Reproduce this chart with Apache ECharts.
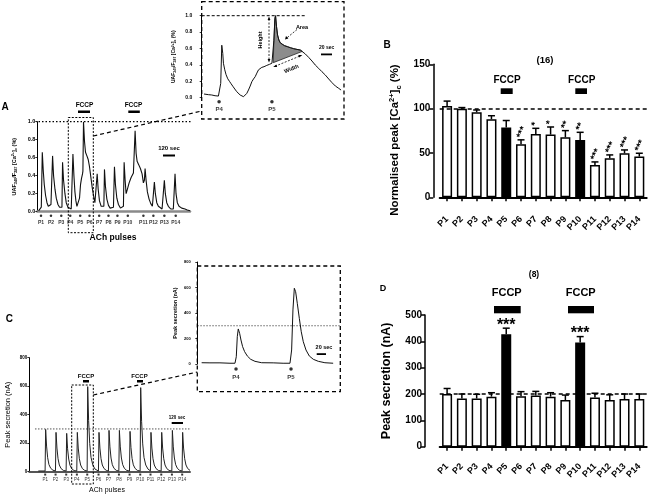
<!DOCTYPE html>
<html><head><meta charset="utf-8">
<script src="https://cdn.jsdelivr.net/npm/echarts@6/dist/echarts.min.js"></script>
<style>html,body{margin:0;padding:0;background:#fff}#c{width:654px;height:497px}</style>
</head><body><div id="c"></div><script>
// ---------- DATA ----------
const categories = ['P1','P2','P3','P4','P5','P6','P7','P8','P9','P10','P11','P12','P13','P14'];
const fccpPulses = ['P5','P10'];
// Panel B: normalised peak [Ca2+]c (%)
const peakCaMean = [103, 100, 95.9, 88, 78.6, 59.8, 71.4, 70.7, 67.7, 64.7, 36.5, 44, 49.6, 45.9];
const peakCaSem  = [5.5, 1.2, 2.6, 4, 8, 5, 6.4, 8.6, 7.5, 8.6, 3.4, 3.8, 3.8, 3.8];
const peakCaStars = ['', '', '', '', '', '***', '*', '*', '**', '**', '***', '***', '***', '***'];
// Panel D: peak secretion (nA)
const secretionMean = [200, 183, 183, 190, 427, 192, 194, 190, 177, 396, 187, 177, 181, 181];
const secretionSem  = [21, 17, 16, 15, 23, 17, 16, 15, 19, 22, 16, 20, 19, 19];
const secretionStars = ['', '', '', '', '***', '', '', '', '', '***', '', '', '', ''];
// Panel A: [Ca2+]c trace [time s, value]
const traceCa = [[13,0.01],[33,0.01],[40,0.05],[50,0.66],[60,0.45],[70,0.30],[83,0.18],[97,0.10],[110,0.06],[120,0.07],[130,0.05],[137,0.08],[143,0.06],[153,0.62],[163,0.40],[177,0.25],[190,0.15],[207,0.08],[223,0.05],[240,0.03],[247,0.05],[253,0.55],[263,0.35],[277,0.20],[290,0.10],[307,0.05],[323,0.03],[340,0.03],[350,0.05],[357,0.64],[367,0.40],[377,0.22],[387,0.12],[397,0.06],[407,0.04],[417,0.05],[423,0.15],[433,0.30],[443,0.37],[453,0.42],[457,0.45],[463,1.00],[473,0.78],[483,0.66],[497,0.62],[510,0.58],[523,0.50],[537,0.38],[550,0.27],[563,0.18],[577,0.10],[587,0.08],[593,0.10],[600,0.42],[610,0.25],[623,0.12],[640,0.06],[657,0.04],[667,0.06],[673,0.47],[683,0.28],[697,0.14],[713,0.07],[730,0.04],[750,0.03],[763,0.05],[773,0.50],[783,0.30],[797,0.15],[813,0.08],[833,0.04],[853,0.03],[863,0.06],[870,0.55],[880,0.35],[890,0.20],[903,0.25],[920,0.32],[940,0.38],[963,0.43],[973,0.45],[980,0.90],[990,0.65],[1000,0.56],[1017,0.52],[1033,0.48],[1050,0.42],[1063,0.32],[1073,0.35],[1080,0.48],[1090,0.35],[1103,0.22],[1120,0.14],[1137,0.09],[1153,0.06],[1167,0.07],[1173,0.33],[1183,0.20],[1197,0.10],[1213,0.06],[1230,0.04],[1250,0.03],[1263,0.05],[1273,0.35],[1283,0.20],[1297,0.10],[1313,0.06],[1337,0.03],[1363,0.03],[1373,0.05],[1380,0.42],[1390,0.20],[1403,0.10],[1420,0.06],[1447,0.04],[1480,0.03],[1503,0.02],[1530,0.01]];
const pulseTimesCa = [37,137,240,330,430,523,620,713,803,907,1063,1163,1273,1387];
// Panel A inset (P4-P5 zoom)
const traceCaZoom = [[4.2,0.045],[12.1,0.037],[18.2,0.033],[24.2,0.024],[30.3,0.02],[32.7,0.016],[34.5,0.175],[36.4,0.64],[38.2,0.54],[39.4,0.42],[41.8,0.34],[44.2,0.28],[47.3,0.23],[50.3,0.20],[53.3,0.17],[56.4,0.14],[60,0.106],[63.6,0.073],[66.7,0.049],[69.7,0.033],[72.7,0.02],[75.8,0.012],[78.8,0.02],[81.8,0.053],[84.8,0.094],[87.9,0.142],[90.9,0.195],[93.9,0.228],[97,0.256],[100,0.30],[103,0.34],[106,0.36],[109,0.37],[113,0.378],[118,0.394],[123,0.407],[127.3,0.42],[129.7,0.427],[130.9,0.70],[132.7,0.967],[133.9,1.0],[135.7,0.866],[137.6,0.764],[140,0.703],[142.4,0.67],[146,0.65],[150.3,0.634],[155.7,0.622],[160.6,0.61],[166.7,0.598],[172.7,0.589],[178.8,0.581],[182.4,0.565],[187.9,0.533],[193.9,0.492],[200,0.447],[206,0.398],[212,0.358],[218,0.317],[224.2,0.276],[230.3,0.228],[236.3,0.183],[242.4,0.142],[248.5,0.114],[252.7,0.093]];
const zoomPulseNames = ['P4','P5'];
const zoomPulseCa = [31.5, 127.3];
const areaStartT = 129.7, areaEndT = 182.4;
// Panel C: secretion trace [time s, nA]
const traceSec = [[98,5],[172,5],[178,297],[188,180],[200,98],[214,50],[233,24],[258,10],
[285,6],[291,276],[301,166],[313,91],[327,47],[346,22],[371,9],
[401,5],[407,269],[417,161],[429,89],[443,46],[462,21],[487,8],
[517,5],[523,276],[533,166],[545,91],[559,47],[578,22],[603,9],
[630,5],[636,597],[646,358],[658,197],[672,101],[691,48],[716,18],
[753,5],[759,276],[769,166],[781,91],[795,47],[814,22],[839,9],
[862,5],[868,290],[878,174],[890,96],[904,49],[923,23],[948,9],
[975,5],[981,290],[991,174],[1003,96],[1017,49],[1036,23],[1061,9],
[1091,5],[1097,283],[1107,170],[1119,93],[1133,48],[1152,23],[1177,9],
[1207,5],[1213,590],[1223,354],[1235,195],[1249,100],[1268,47],[1293,18],
[1319,6],[1325,276],[1335,166],[1347,91],[1361,47],[1380,22],[1405,9],
[1436,5],[1442,276],[1452,166],[1464,91],[1478,47],[1497,22],[1522,9],
[1552,5],[1558,290],[1568,174],[1580,96],[1594,49],[1613,23],[1638,9],
[1664,5],[1670,276],[1680,166],[1692,91],[1706,47],[1725,22],[1750,9]];
const pulseTimesSec = [173,286,402,518,631,754,863,976,1092,1208,1320,1437,1553,1665];
// Panel C inset
const traceSecZoom = [[7.9,10],[23,9],[41.2,9],[59.4,6],[68.5,6],[70.9,57],[72.7,214],[74.5,275],[77,240],[79.4,188],[82.4,136],[86,97],[90.9,63],[97,37],[104.8,21],[117,10],[138,9],[156,6],[168.5,6],[171.5,110],[173.9,424],[176.4,594],[178.8,567],[181.8,476],[185.5,358],[189,253],[192.7,175],[197.6,110],[203.6,63],[210.9,37],[220,21],[232,10],[247,6]];
const zoomPulseSec = [70.4, 170.4];

// ---------- CHART ----------
const FONT = 'Liberation Sans, Arial, sans-serif';
const chart = echarts.init(document.getElementById('c'), null, {renderer:'canvas'});

function txt(text, x, y, size, bold, rot) {
  return {type:'text', x:x, y:y, rotation: rot||0, z:20, style:{text:text, fontSize:size, fontWeight: bold?'bold':'normal', fontFamily:FONT, fill:'#000', align:'center', verticalAlign:'middle'}};
}
function rect(x,y,w,h){ return {type:'rect', z:20, shape:{x:x,y:y,width:w,height:h}, style:{fill:'#000'}}; }
function dashRect(x,y,w,h,dash,lw){ return {type:'rect', z:20, shape:{x:x,y:y,width:w,height:h}, style:{fill:'none', stroke:'#000', lineWidth:lw||1, lineDash:dash}}; }
function dline(x1,y1,x2,y2,dash,lw){ return {type:'line', z:20, shape:{x1:x1,y1:y1,x2:x2,y2:y2}, style:{stroke:'#000', lineWidth:lw||1, lineDash:dash||null}}; }
function tri(points){ return {type:'polygon', z:20, shape:{points:points}, style:{fill:'#000'}}; }

function richName(n, s) {
  return {
    n:{fontSize:n, fontWeight:'bold', fontFamily:FONT, color:'#000', fill:'#000', lineHeight:n*1.3},
    b:{fontSize:s, fontWeight:'bold', fontFamily:FONT, color:'#000', fill:'#000', lineHeight:s*0.6, verticalAlign:'bottom'},
    p:{fontSize:s, fontWeight:'bold', fontFamily:FONT, color:'#000', fill:'#000', lineHeight:s*0.6, verticalAlign:'top'}
  };
}
const uafName = '{n|UAF}{b|340}{n|/F}{b|387}{n| [Ca}{p|2+}{n|]}{b|c}{n| (%)}';
const caName = '{n|Normalised peak [Ca}{p|2+}{n|]}{b|c}{n| (%)}';

function errRender(stars, rot, fsize, dy) {
  return function(params, api) {
    const i = api.value(0), m = api.value(1), e = api.value(2);
    const p0 = api.coord([i, m]), p1 = api.coord([i, m + e]);
    const ch = [
      {type:'line', shape:{x1:p0[0], y1:p0[1], x2:p1[0], y2:p1[1]}, style:{stroke:'#000', lineWidth:1.5}},
      {type:'line', shape:{x1:p1[0]-3.5, y1:p1[1], x2:p1[0]+3.5, y2:p1[1]}, style:{stroke:'#000', lineWidth:1.5}}
    ];
    const s = stars[params.dataIndex];
    if (s) {
      if (rot) ch.push({type:'text', x:p1[0]-1.5, y:p1[1]-2, rotation:rot, style:{text:s, fontSize:fsize, fontWeight:'bold', fontFamily:FONT, fill:'#000', align:'left', verticalAlign:'middle'}});
      else ch.push({type:'text', x:p1[0], y:p1[1]+dy, style:{text:s, fontSize:fsize, fontWeight:'bold', fontFamily:FONT, fill:'#000', align:'center', verticalAlign:'middle'}});
    }
    return {type:'group', children:ch};
  };
}

const noSplit = {show:false};
const blackAxis = (w) => ({show:true, lineStyle:{color:'#000', width:w}});

const option = {
  animation:false,
  textStyle:{fontFamily:FONT},
  grid:[
    {left:37.3, top:121.7, width:152.7, height:90, outerBoundsMode:'none'},
    {left:201.7, top:15.7, width:142.3, height:82, outerBoundsMode:'none'},
    {left:439.7, top:64.3, width:207, height:133, outerBoundsMode:'none'},
    {left:29.3, top:357.7, width:160.7, height:114, outerBoundsMode:'none'},
    {left:197.3, top:262, width:143, height:102, outerBoundsMode:'none'},
    {left:439.7, top:315, width:207, height:131.7, outerBoundsMode:'none'}
  ],
  xAxis:[
    {type:'value', gridIndex:0, min:0, max:1530, axisLine:{show:true, onZero:false, lineStyle:{color:'#8a8a8a', width:2.5}}, axisTick:{show:false}, axisLabel:{show:false}, splitLine:noSplit},
    {type:'value', gridIndex:1, min:0, max:258, show:false, splitLine:noSplit},
    {type:'category', gridIndex:2, data:categories, offset:15.4, axisLine:{show:true, lineStyle:{color:'#000', width:2}}, axisTick:{show:true, alignWithLabel:true, length:4, lineStyle:{color:'#000', width:1.5}}, axisLabel:{rotate:45, fontSize:9, fontWeight:'bold', color:'#000', margin:5, interval:0}, splitLine:noSplit},
    {type:'value', gridIndex:3, min:0, max:1750, axisLine:{show:true, onZero:false, lineStyle:{color:'#555', width:2}}, axisTick:{show:false}, axisLabel:{show:false}, splitLine:noSplit},
    {type:'value', gridIndex:4, min:0, max:260, show:false, splitLine:noSplit},
    {type:'category', gridIndex:5, data:categories, offset:13.3, axisLine:{show:true, lineStyle:{color:'#000', width:2}}, axisTick:{show:true, alignWithLabel:true, length:4, lineStyle:{color:'#000', width:1.5}}, axisLabel:{rotate:45, fontSize:9, fontWeight:'bold', color:'#000', margin:5, interval:0}, splitLine:noSplit}
  ],
  yAxis:[
    {type:'value', gridIndex:0, min:0, max:1, interval:0.2, axisLine:blackAxis(1), axisTick:{show:true, length:2, lineStyle:{color:'#000', width:0.8}}, splitLine:noSplit,
     axisLabel:{fontSize:5.5, fontWeight:'bold', color:'#000', margin:2, formatter:v=>v.toFixed(1)},
     name:uafName, nameLocation:'middle', nameGap:19, nameTextStyle:{rich:richName(5.5,3.8)}},
    {type:'value', gridIndex:1, min:0, max:1, interval:0.2, offset:7.4, axisLine:blackAxis(1), axisTick:{show:true, length:2, lineStyle:{color:'#000', width:0.8}}, splitLine:noSplit,
     axisLabel:{fontSize:5, fontWeight:'bold', color:'#000', margin:2, formatter:v=>v.toFixed(1)},
     name:uafName, nameLocation:'middle', nameGap:17, nameTextStyle:{rich:richName(5,3.5)}},
    {type:'value', gridIndex:2, min:0, max:150, interval:50, offset:6.4, axisLine:blackAxis(1.5), axisTick:{show:true, length:4, lineStyle:{color:'#000', width:1.5}}, splitLine:noSplit,
     axisLabel:{fontSize:10, fontWeight:'bold', color:'#000', margin:3}},
    {type:'value', gridIndex:3, min:0, max:800, interval:200, axisLine:blackAxis(1), axisTick:{show:true, length:2, lineStyle:{color:'#000', width:0.8}}, splitLine:noSplit,
     axisLabel:{fontSize:4.5, fontWeight:'bold', color:'#000', margin:2},
     name:'Peak secretion (nA)', nameLocation:'middle', nameGap:17, nameTextStyle:{fontSize:7.5, color:'#000', fontFamily:FONT}},
    {type:'value', gridIndex:4, min:0, max:800, interval:200, offset:4.6, axisLine:blackAxis(1), axisTick:{show:true, length:2, lineStyle:{color:'#000', width:0.8}}, splitLine:noSplit,
     axisLabel:{fontSize:4, fontWeight:'bold', color:'#000', margin:2},
     name:'Peak secretion (nA)', nameLocation:'middle', nameGap:14, nameTextStyle:{fontSize:5.5, fontWeight:'bold', color:'#000', fontFamily:FONT}},
    {type:'value', gridIndex:5, min:0, max:500, interval:100, offset:14.7, axisLine:blackAxis(1.5), axisTick:{show:true, length:4, lineStyle:{color:'#000', width:1.5}}, splitLine:noSplit,
     axisLabel:{fontSize:10, fontWeight:'bold', color:'#000', margin:3},
     name:'Peak secretion (nA)', nameLocation:'middle', nameGap:32, nameTextStyle:{fontSize:12.5, fontWeight:'bold', color:'#000', fontFamily:FONT}}
  ],
  series:[
    // A main
    {type:'line', xAxisIndex:0, yAxisIndex:0, data:traceCa, showSymbol:false, lineStyle:{color:'#111', width:1.1}, z:3},
    {type:'line', xAxisIndex:0, yAxisIndex:0, data:[[-93,1],[1597,1]], clip:false, showSymbol:false, lineStyle:{type:[1.5,2], color:'#000', width:1.2}, z:2},
    {type:'scatter', xAxisIndex:0, yAxisIndex:0, clip:false, symbolSize:2.5, itemStyle:{color:'#000'},
     data:pulseTimesCa.map((t,i)=>({name:categories[i], value:[t,-0.045]})),
     label:{show:true, position:'bottom', distance:3, formatter:'{b}', fontSize:5, fontWeight:'bold', color:'#000'}},
    // A inset
    {type:'custom', xAxisIndex:1, yAxisIndex:1, data:[0], z:2,
     renderItem:(params, api) => ({type:'polygon', shape:{points:traceCaZoom.filter(p=>p[0]>=areaStartT && p[0]<=areaEndT).map(p=>api.coord(p))}, style:{fill:'#8c8c8c', stroke:'#222', lineWidth:0.8}})},
    {type:'line', xAxisIndex:1, yAxisIndex:1, data:traceCaZoom, showSymbol:false, lineStyle:{color:'#111', width:1}, z:3},
    {type:'line', xAxisIndex:1, yAxisIndex:1, data:[[0,1],[188,1]], clip:false, showSymbol:false, lineStyle:{type:[3,2], color:'#000', width:1}, z:2},
    {type:'scatter', xAxisIndex:1, yAxisIndex:1, clip:false, symbolSize:3.5, itemStyle:{color:'#000'},
     data:zoomPulseCa.map((t,i)=>({name:zoomPulseNames[i], value:[t,-0.05]})),
     label:{show:true, position:'bottom', distance:2.5, formatter:'{b}', fontSize:6, fontWeight:'bold', color:'#000'}},
    // B
    {type:'bar', xAxisIndex:2, yAxisIndex:2, barWidth:10, z:2,
     data:peakCaMean.map((v,i)=>({value:v, itemStyle:{color: fccpPulses.includes(categories[i]) ? '#000' : '#fff'}})),
     itemStyle:{borderColor:'#000', borderWidth:1.5},
     markLine:{silent:true, symbol:'none', label:{show:false}, lineStyle:{type:[4,3], color:'#000', width:1.5}, data:[{yAxis:100}]}},
    {type:'custom', xAxisIndex:2, yAxisIndex:2, z:3, data:peakCaMean.map((v,i)=>[i, v, peakCaSem[i]]), renderItem:errRender(peakCaStars, 1.15, 10, 0)},
    // C main
    {type:'line', xAxisIndex:3, yAxisIndex:3, data:traceSec, showSymbol:false, lineStyle:{color:'#222', width:1}, z:3},
    {type:'line', xAxisIndex:3, yAxisIndex:3, data:[[62,300],[1783,300]], clip:false, showSymbol:false, lineStyle:{type:[1.5,1.5], color:'#555', width:1}, z:2},
    {type:'scatter', xAxisIndex:3, yAxisIndex:3, clip:false, symbol:'rect', symbolSize:2, itemStyle:{color:'#000'},
     data:pulseTimesSec.map((t,i)=>({name:categories[i], value:[t,-20]})),
     label:{show:true, position:'bottom', distance:2, formatter:'{b}', fontSize:4.5, color:'#000'}},
    // C inset
    {type:'line', xAxisIndex:4, yAxisIndex:4, data:traceSecZoom, showSymbol:false, lineStyle:{color:'#111', width:1}, z:3},
    {type:'line', xAxisIndex:4, yAxisIndex:4, data:[[0,300],[259,300]], clip:false, showSymbol:false, lineStyle:{type:[1.5,1.5], color:'#666', width:1}, z:2},
    {type:'scatter', xAxisIndex:4, yAxisIndex:4, clip:false, symbolSize:3.5, itemStyle:{color:'#000'},
     data:zoomPulseSec.map((t,i)=>({name:zoomPulseNames[i], value:[t,-39]})),
     label:{show:true, position:'bottom', distance:3.5, formatter:'{b}', fontSize:6, fontWeight:'bold', color:'#000'}},
    // D
    {type:'bar', xAxisIndex:5, yAxisIndex:5, barWidth:10, z:2,
     data:secretionMean.map((v,i)=>({value:v, itemStyle:{color: fccpPulses.includes(categories[i]) ? '#000' : '#fff'}})),
     itemStyle:{borderColor:'#000', borderWidth:1.5},
     markLine:{silent:true, symbol:'none', label:{show:false}, lineStyle:{type:[4,3], color:'#000', width:1.5}, data:[{yAxis:200}]}},
    {type:'custom', xAxisIndex:5, yAxisIndex:5, z:3, data:secretionMean.map((v,i)=>[i, v, secretionSem[i]]), renderItem:errRender(secretionStars, 0, 16, -3)}
  ],
  graphic:{elements:[
    // B axis title
    {type:'text', x:395, y:140, rotation:Math.PI/2, z:20, style:{text:caName, rich:richName(11.5,7.5), fontFamily:FONT, fontWeight:'bold', fontSize:11.5, fill:'#000', align:'center', verticalAlign:'middle'}},
    // panel letters and counts
    txt('A', 5, 107, 10, true), txt('B', 387, 45, 10, true), txt('C', 9.3, 319, 10, true), txt('D', 383, 289, 9, true),
    txt('(16)', 545, 60, 9.5, true), txt('(8)', 534, 275, 8.5, true),
    // B FCCP
    txt('FCCP', 507, 80.7, 10, true), rect(500.7, 88.3, 12, 5.7),
    txt('FCCP', 581.7, 80.7, 10, true), rect(575.3, 88.3, 11.7, 5.7),
    // D FCCP
    txt('FCCP', 506.7, 293.3, 11, true), rect(494, 306, 26.7, 7.3),
    txt('FCCP', 580.7, 293.3, 11, true), rect(568, 306, 26, 7.3),
    // A main annotations
    txt('FCCP', 84.5, 105, 6.5, true), rect(78, 110.5, 12, 2.5),
    txt('FCCP', 133.5, 105, 6.5, true), rect(128.3, 110.5, 11.5, 2.5),
    txt('120 sec', 169, 148, 6, true), rect(163, 154.5, 12, 2),
    txt('ACh pulses', 113, 238, 8.5, true),
    dashRect(68.3, 117.5, 25, 115.2, [2,1.5], 1),
    dashRect(201.7, 1.7, 142.3, 117.3, [4,3], 1.3),
    dline(93.3, 136, 201.7, 111, [4,3], 1.2),
    // A inset annotations
    txt('20 sec', 326.7, 48, 5, true), rect(321, 53.5, 11, 1.8),
    txt('Height', 260.5, 40, 5.5, true, Math.PI/2),
    dline(269, 19, 269, 60, [2,1.5], 0.8), tri([[269,16.5],[267.6,20],[270.4,20]]), tri([[269,62.5],[267.6,59],[270.4,59]]),
    txt('Area', 302, 27, 5.5, true),
    dline(297, 29.5, 287, 37.8, [2,1.5], 0.8), tri([[285,39.4],[286,35.9],[288.4,38.6]]),
    txt('Width', 291.5, 69, 5.5, true, 0.39),
    dline(275, 66.3, 300.5, 55.8, [2,1.5], 0.8), tri([[273.2,67],[276.3,64.6],[277.2,67]]), tri([[302.3,55],[299.2,57.4],[298.3,55]]),
    // C main annotations
    txt('FCCP', 86, 376, 6, true), rect(83, 380, 6, 2.5),
    txt('FCCP', 139.5, 376, 6, true), rect(137, 380, 6, 2.5),
    txt('120 sec', 177, 418, 4.5, true), rect(171.7, 422, 11.3, 2),
    txt('ACh pulses', 107, 490, 7, false),
    dashRect(71.7, 385, 21.6, 99, [2,1.5], 1),
    dashRect(197.3, 266, 143, 125.7, [4,3], 1.3),
    dline(93.3, 395, 197.3, 372, [4,3], 1.2),
    // C inset annotations
    txt('20 sec', 324, 347.7, 5.5, true), rect(316.7, 353.2, 9.3, 1.8)
  ]}
};
chart.setOption(option);
</script></body></html>
